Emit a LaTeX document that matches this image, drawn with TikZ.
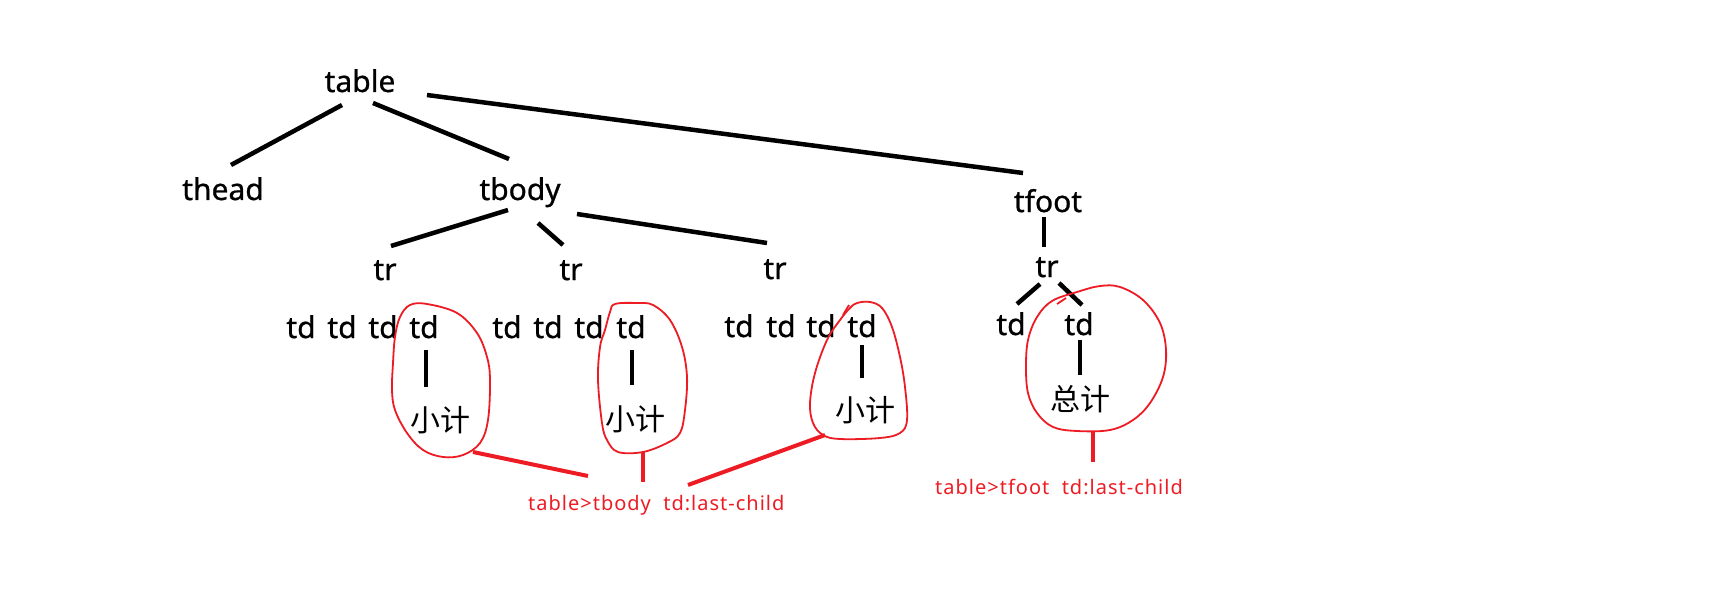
\documentclass[tikz,border=0pt]{standalone}
\usepackage{fontspec}
\setmainfont{Noto Sans}
\newfontfamily\boldish[FakeBold=0.8]{Noto Sans}
\newfontfamily\redfont[LetterSpace=5]{Noto Sans}
\newfontfamily\cjk{Noto Sans CJK SC}
\definecolor{pred}{RGB}{237,28,36}
\tikzset{
  lbl/.style={anchor=base, inner sep=0pt, font=\boldish\fontsize{30}{36}\selectfont},
  cjklbl/.style={anchor=center, inner sep=0pt, font=\cjk\fontsize{30}{36}\selectfont},
  redlbl/.style={anchor=base west, inner sep=0pt, text=pred, font=\redfont\fontsize{20}{24}\selectfont},
  conn/.style={line width=4.5pt, black},
  rconn/.style={line width=4pt, pred},
  ring/.style={line width=1.8pt, pred},
}
\begin{document}
\begin{tikzpicture}[x=1pt, y=-1pt]
\useasboundingbox (0,0) rectangle (1736,604);
\fill[white] (0,0) rectangle (1736,604);
% tree nodes
\node[lbl] (table) at (360,92) {table};
\node[lbl] (thead) at (223,200) {thead};
\node[lbl] (tbody) at (520,200) {tbody};
\node[lbl] (tfoot) at (1048,212) {tfoot};
\node[lbl] (tr1) at (385,280) {tr};
\node[lbl] (tr2) at (571,280) {tr};
\node[lbl] (tr3) at (775,279) {tr};
\node[lbl] (ftr) at (1047,277) {tr};
% td rows
\node[lbl] (r1d1) at (301,338) {td};
\node[lbl] (r1d2) at (342,338) {td};
\node[lbl] (r1d3) at (383,338) {td};
\node[lbl] (r1d4) at (424,338) {td};
\node[lbl] (r2d1) at (507,338) {td};
\node[lbl] (r2d2) at (548,338) {td};
\node[lbl] (r2d3) at (589,338) {td};
\node[lbl] (r2d4) at (631,338) {td};
\node[lbl] (r3d1) at (739,337) {td};
\node[lbl] (r3d2) at (781,337) {td};
\node[lbl] (r3d3) at (821,337) {td};
\node[lbl] (r3d4) at (862,337) {td};
\node[lbl] (fd1) at (1011,335) {td};
\node[lbl] (fd2) at (1079,335) {td};
% leaves
\node[cjklbl] (sub1) at (440,420) {小计};
\node[cjklbl] (sub2) at (635,419) {小计};
\node[cjklbl] (sub3) at (865,410) {小计};
\node[cjklbl] (total) at (1080,399) {总计};
% red labels
\node[redlbl] (lab1) at (528,510) {table>tbody\ \ td:last-child};
\node[redlbl] (lab2) at (935,494) {table>tfoot\ \ td:last-child};
% black connectors
\draw[conn] ([shift={(-18,13)}]table.base) -- ([shift={(8,-35)}]thead.base);
\draw[conn] ([shift={(13,11)}]table.base) -- ([shift={(-11,-41)}]tbody.base);
\draw[conn] ([shift={(67,3)}]table.base) -- ([shift={(-25,-39)}]tfoot.base);
\draw[conn] ([shift={(-12,10)}]tbody.base) -- ([shift={(6,-34)}]tr1.base);
\draw[conn] ([shift={(18,23)}]tbody.base) -- ([shift={(-8,-35)}]tr2.base);
\draw[conn] ([shift={(57,14)}]tbody.base) -- ([shift={(-8,-36)}]tr3.base);
\draw[conn] ([shift={(-4,5)}]tfoot.base) -- ([shift={(-3,-30)}]ftr.base);
\draw[conn] ([shift={(-7,7)}]ftr.base) -- ([shift={(6,-31)}]fd1.base);
\draw[conn] ([shift={(12,6)}]ftr.base) -- ([shift={(3,-30)}]fd2.base);
\draw[conn] ([shift={(1,5)}]fd2.base) -- ([shift={(0,-24)}]total.center);
\draw[conn] ([shift={(2,12)}]r1d4.base) -- ([shift={(-14,-33)}]sub1.center);
\draw[conn] ([shift={(1,12)}]r2d4.base) -- ([shift={(-3,-34)}]sub2.center);
\draw[conn] ([shift={(0,8)}]r3d4.base) -- ([shift={(-3,-32)}]sub3.center);
% red rings (hand drawn)
\draw[ring] plot[smooth cycle, tension=0.6] coordinates {(410,305) (427,304) (457,313) (477,333) (487,357) (490,380) (488,420) (480,443) (463,455) (443,457) (423,450) (407,433) (395,410) (392,390) (393,363) (395,337) (400,317)};
\draw[ring] plot[smooth cycle, tension=0.6] coordinates {(615,304) (637,303) (653,305) (670,320) (682,347) (687,377) (685,410) (680,433) (667,443) (643,452) (618,452) (607,440) (602,423) (598,380) (600,347) (605,330) (610,312)};
\draw[ring] plot[smooth cycle, tension=0.6] coordinates {(857,303) (870,302) (882,308) (892,327) (900,357) (905,387) (907,420) (900,433) (880,438) (840,439) (823,435) (813,423) (810,403) (815,373) (827,340) (840,320) (850,308)};
\draw[ring] plot[smooth cycle, tension=0.6] coordinates {(1077,292) (1100,286) (1120,287) (1143,300) (1160,323) (1166,350) (1163,377) (1150,403) (1133,420) (1110,430) (1077,431) (1053,427) (1037,413) (1028,393) (1026,367) (1028,340) (1037,317) (1052,301)};
\draw[ring] (1057,304) -- (1066,298);
\draw[ring] (843,315) -- (849,305);
% ring anchor coordinates
\coordinate (e1) at (473,452);
\coordinate (e2) at (643,452);
\coordinate (e3) at (825,435);
\coordinate (e4) at (1093,432);
% red connectors
\draw[rconn] (e1) -- ([shift={(60,-34)}]lab1.base west);
\draw[rconn] (e2) -- ([shift={(115,-28)}]lab1.base west);
\draw[rconn] (e3) -- ([shift={(160,-25)}]lab1.base west);
\draw[rconn] (e4) -- ([shift={(158,-32)}]lab2.base west);
\end{tikzpicture}
\end{document}
